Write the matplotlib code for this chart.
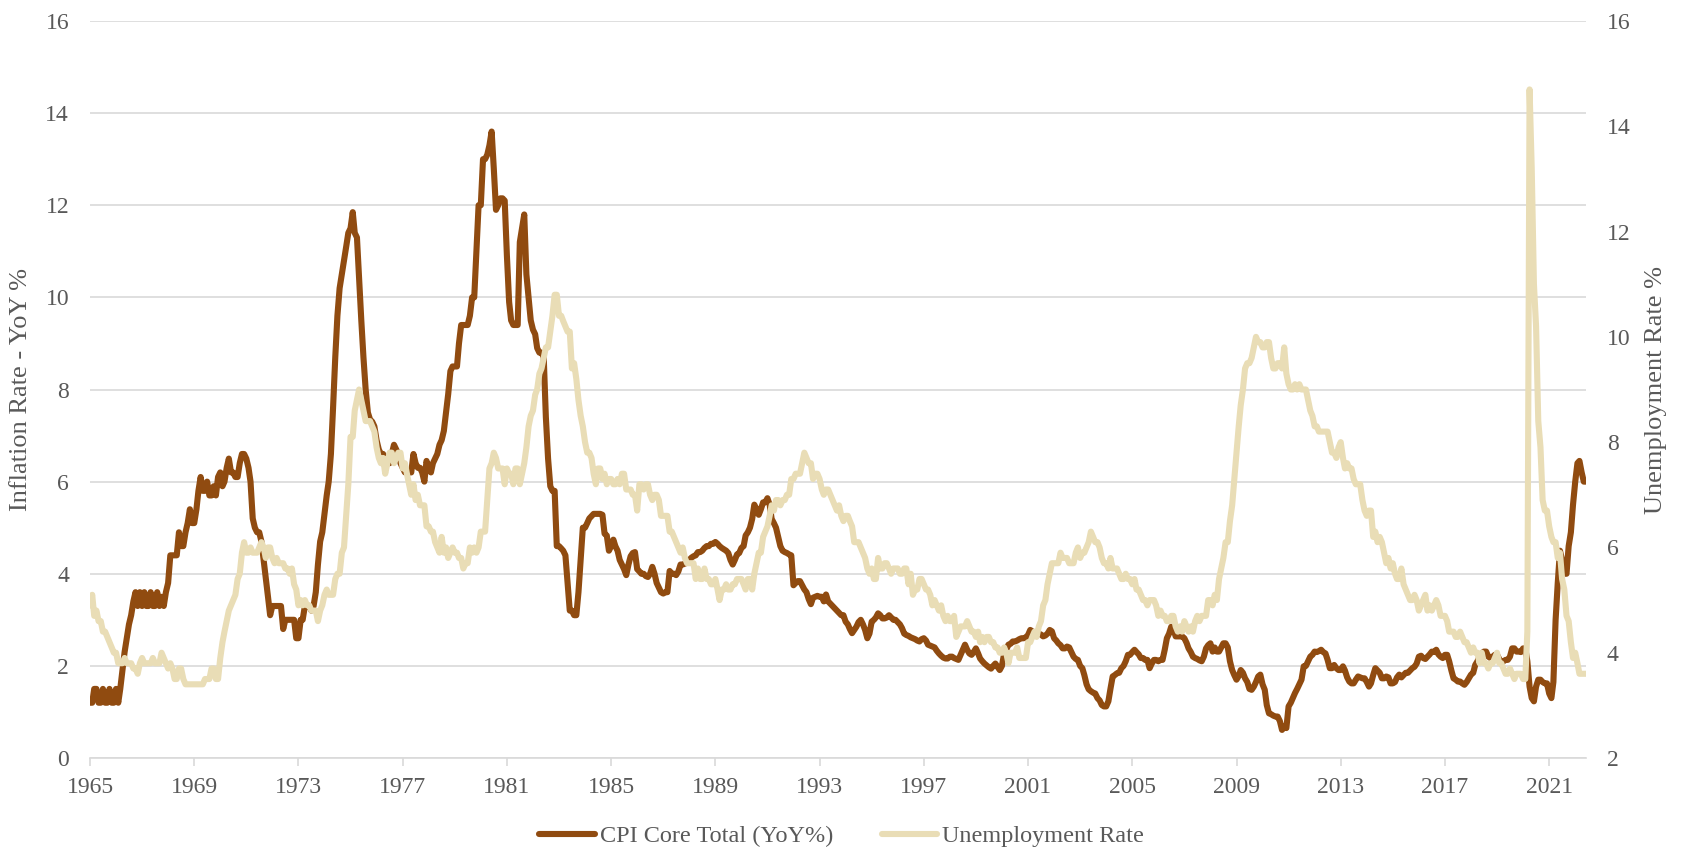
import pandas as pd
import matplotlib
matplotlib.use("Agg")
import matplotlib.pyplot as plt

# monthly values, Jan 1965 .. Jun 2022 (one row per year)
cpi_core = [
    1.2, 1.2, 1.5, 1.5, 1.2, 1.2, 1.5, 1.2, 1.2, 1.5, 1.2, 1.2,
    1.5, 1.2, 1.5, 1.9, 2.3, 2.6, 2.9, 3.1, 3.4, 3.6, 3.3, 3.6,
    3.3, 3.6, 3.3, 3.3, 3.6, 3.3, 3.3, 3.6, 3.3, 3.5, 3.3, 3.6,
    3.8, 4.4, 4.4, 4.4, 4.4, 4.9, 4.6, 4.6, 4.9, 5.1, 5.4, 5.1,
    5.1, 5.4, 5.8, 6.1, 5.8, 5.8, 6.0, 5.7, 5.7, 5.9, 5.7, 6.1,
    6.2, 5.9, 6.0, 6.3, 6.5, 6.2, 6.2, 6.1, 6.1, 6.4, 6.6, 6.6,
    6.5, 6.3, 6.0, 5.2, 5.0, 4.9, 4.9, 4.7, 4.3, 3.9, 3.5, 3.1,
    3.3, 3.3, 3.3, 3.3, 3.3, 2.8, 3.0, 3.0, 3.0, 3.0, 3.0, 2.6,
    2.6, 3.0, 3.0, 3.3, 3.3, 3.3, 3.2, 3.3, 3.6, 4.2, 4.7, 4.9,
    5.3, 5.7, 6.0, 6.6, 7.6, 8.7, 9.6, 10.2, 10.5, 10.8, 11.1, 11.4,
    11.5, 11.85, 11.4, 11.3, 10.4, 9.5, 8.7, 8.0, 7.5, 7.35, 7.3, 7.2,
    6.9, 6.7, 6.6, 6.6, 6.5, 6.4, 6.4, 6.6, 6.8, 6.7, 6.6, 6.4,
    6.3, 6.2, 6.2, 6.2, 6.2, 6.6, 6.4, 6.3, 6.3, 6.2, 6.0, 6.45,
    6.3, 6.2, 6.4, 6.5, 6.6, 6.8, 6.9, 7.1, 7.5, 7.9, 8.4, 8.5,
    8.5, 8.5, 9.0, 9.4, 9.4, 9.4, 9.4, 9.6, 10.0, 10.0, 11.0, 12.0,
    12.0, 13.0, 13.0, 13.1, 13.3, 13.6, 12.8, 11.9, 12.0, 12.15, 12.15, 12.1,
    10.9, 9.9, 9.5, 9.4, 9.4, 9.4, 11.2, 11.5, 11.8, 10.5, 10.0, 9.5,
    9.3, 9.2, 8.9, 8.8, 8.8, 8.7, 7.4, 6.5, 5.9, 5.8, 5.8, 4.6,
    4.6, 4.55, 4.5, 4.4, 3.8, 3.2, 3.2, 3.1, 3.1, 3.6, 4.3, 5.0,
    5.0, 5.1, 5.2, 5.25, 5.3, 5.3, 5.3, 5.3, 5.28, 4.87, 4.83, 4.5,
    4.6, 4.74, 4.6, 4.5, 4.3, 4.2, 4.1, 3.97, 4.2, 4.38, 4.45, 4.47,
    4.1, 4.05, 4.0, 4.0, 3.95, 3.93, 4.0, 4.15, 4.0, 3.8, 3.7, 3.6,
    3.57, 3.6, 3.6, 4.06, 4.0, 4.0, 3.97, 4.05, 4.2, 4.2, 4.22, 4.24,
    4.3, 4.35, 4.38, 4.4, 4.47, 4.47, 4.5, 4.56, 4.6, 4.6, 4.65, 4.65,
    4.69, 4.65, 4.6, 4.56, 4.53, 4.5, 4.45, 4.3, 4.2, 4.3, 4.42, 4.45,
    4.56, 4.6, 4.83, 4.9, 5.0, 5.19, 5.5, 5.4, 5.28, 5.4, 5.55, 5.55,
    5.64, 5.5, 5.19, 5.1, 5.0, 4.8, 4.6, 4.5, 4.47, 4.45, 4.42, 4.4,
    3.75, 3.8, 3.84, 3.84, 3.75, 3.66, 3.6, 3.45, 3.34, 3.48, 3.5, 3.52,
    3.5, 3.5, 3.4, 3.55, 3.4, 3.35, 3.3, 3.25, 3.2, 3.15, 3.1, 3.1,
    2.96, 2.9, 2.8, 2.71, 2.78, 2.85, 2.95, 3.0, 2.9, 2.78, 2.6, 2.7,
    2.96, 3.0, 3.05, 3.14, 3.1, 3.03, 3.03, 3.05, 3.1, 3.05, 3.0, 3.0,
    2.95, 2.9, 2.82, 2.7, 2.67, 2.65, 2.62, 2.6, 2.58, 2.55, 2.53, 2.58,
    2.6, 2.55, 2.46, 2.44, 2.42, 2.4, 2.33, 2.27, 2.22, 2.18, 2.16, 2.16,
    2.2, 2.2, 2.17, 2.15, 2.13, 2.24, 2.35, 2.46, 2.35, 2.27, 2.24, 2.3,
    2.38, 2.27, 2.16, 2.1, 2.05, 2.01, 1.97, 1.94, 2.0, 2.05, 1.98, 1.91,
    2.0, 2.27, 2.35, 2.46, 2.48, 2.53, 2.53, 2.55, 2.58, 2.6, 2.6, 2.62,
    2.67, 2.78, 2.75, 2.71, 2.71, 2.7, 2.68, 2.64, 2.66, 2.7, 2.78, 2.75,
    2.6, 2.55, 2.49, 2.45, 2.38, 2.38, 2.42, 2.4, 2.3, 2.2, 2.15, 2.13,
    2.0, 1.95, 1.8, 1.6, 1.49, 1.45, 1.42, 1.4, 1.3, 1.25, 1.15, 1.12,
    1.12, 1.23, 1.5, 1.77, 1.8, 1.84, 1.85, 1.95, 2.0, 2.1, 2.24, 2.24,
    2.3, 2.35, 2.3, 2.25, 2.17, 2.17, 2.13, 2.13, 1.95, 2.05, 2.13, 2.13,
    2.1, 2.13, 2.13, 2.35, 2.6, 2.7, 2.85, 2.8, 2.64, 2.64, 2.64, 2.64,
    2.6, 2.5, 2.38, 2.3, 2.2, 2.17, 2.15, 2.12, 2.1, 2.2, 2.38, 2.45,
    2.49, 2.31, 2.4, 2.31, 2.31, 2.4, 2.49, 2.49, 2.4, 2.1, 1.91, 1.8,
    1.7, 1.78, 1.91, 1.85, 1.73, 1.65, 1.5, 1.48, 1.55, 1.65, 1.77, 1.81,
    1.6, 1.48, 1.15, 0.97, 0.95, 0.92, 0.9, 0.9, 0.8, 0.61, 0.68, 0.65,
    1.12, 1.2, 1.3, 1.41, 1.5, 1.6, 1.7, 1.99, 2.0, 2.1, 2.2, 2.24,
    2.31, 2.3, 2.32, 2.35, 2.3, 2.27, 2.13, 1.95, 1.95, 2.02, 1.95, 1.91,
    1.91, 1.99, 1.9, 1.75, 1.66, 1.62, 1.62, 1.7, 1.77, 1.75, 1.73, 1.73,
    1.65, 1.55, 1.62, 1.8, 1.95, 1.9, 1.85, 1.73, 1.73, 1.77, 1.75, 1.62,
    1.62, 1.65, 1.75, 1.81, 1.75, 1.8, 1.85, 1.85, 1.9, 1.95, 1.98, 2.05,
    2.2, 2.22, 2.17, 2.15, 2.2, 2.25, 2.31, 2.3, 2.35, 2.25, 2.2, 2.17,
    2.24, 2.24, 2.1, 1.9, 1.73, 1.7, 1.66, 1.66, 1.62, 1.59, 1.65, 1.73,
    1.81, 1.85, 2.02, 2.1, 2.2, 2.27, 2.31, 2.31, 2.2, 2.17, 2.2, 2.24,
    2.24, 2.15, 2.06, 2.1, 2.13, 2.13, 2.2, 2.38, 2.38, 2.31, 2.31, 2.3,
    2.38, 2.38, 2.1, 1.55, 1.3, 1.23, 1.55, 1.7, 1.7, 1.65, 1.62, 1.62,
    1.4, 1.3, 1.65, 3.0, 3.8, 4.5, 4.3, 4.0, 4.0, 4.6, 4.9, 5.5,
    6.0, 6.4, 6.45, 6.2, 6.0, 6.0,
]

unemployment = [
    4.9, 5.1, 4.7, 4.8, 4.6, 4.6, 4.4, 4.4, 4.3, 4.2, 4.1, 4.0,
    4.0, 3.8, 3.8, 3.8, 3.9, 3.8, 3.8, 3.8, 3.7, 3.7, 3.6, 3.8,
    3.9, 3.8, 3.8, 3.8, 3.8, 3.9, 3.8, 3.8, 3.8, 4.0, 3.9, 3.8,
    3.7, 3.8, 3.7, 3.5, 3.5, 3.7, 3.7, 3.5, 3.4, 3.4, 3.4, 3.4,
    3.4, 3.4, 3.4, 3.4, 3.4, 3.5, 3.5, 3.5, 3.7, 3.7, 3.5, 3.5,
    3.9, 4.2, 4.4, 4.6, 4.8, 4.9, 5.0, 5.1, 5.4, 5.5, 5.9, 6.1,
    5.9, 5.9, 6.0, 5.9, 5.9, 5.9, 6.0, 6.1, 6.0, 5.8, 6.0, 6.0,
    5.8, 5.7, 5.8, 5.7, 5.7, 5.7, 5.6, 5.6, 5.5, 5.6, 5.3, 5.2,
    4.9, 5.0, 4.9, 5.0, 4.9, 4.9, 4.8, 4.8, 4.8, 4.6, 4.8, 4.9,
    5.1, 5.2, 5.1, 5.1, 5.1, 5.4, 5.5, 5.5, 5.9, 6.0, 6.6, 7.2,
    8.1, 8.1, 8.6, 8.8, 9.0, 8.8, 8.6, 8.4, 8.4, 8.4, 8.3, 8.2,
    7.9, 7.7, 7.6, 7.7, 7.4, 7.6, 7.8, 7.8, 7.6, 7.7, 7.8, 7.8,
    7.5, 7.6, 7.4, 7.2, 7.0, 7.2, 6.9, 7.0, 6.8, 6.8, 6.8, 6.4,
    6.4, 6.3, 6.3, 6.1, 6.0, 5.9, 6.2, 5.9, 6.0, 5.8, 5.9, 6.0,
    5.9, 5.9, 5.8, 5.8, 5.6, 5.7, 5.7, 6.0, 5.9, 6.0, 5.9, 6.0,
    6.3, 6.3, 6.3, 6.9, 7.5, 7.6, 7.8, 7.7, 7.5, 7.5, 7.5, 7.2,
    7.5, 7.4, 7.4, 7.2, 7.5, 7.5, 7.2, 7.4, 7.6, 7.9, 8.3, 8.5,
    8.6, 8.9, 9.0, 9.3, 9.4, 9.6, 9.8, 9.8, 10.1, 10.4, 10.8, 10.8,
    10.4, 10.4, 10.3, 10.2, 10.1, 10.1, 9.4, 9.5, 9.2, 8.8, 8.5, 8.3,
    8.0, 7.8, 7.8, 7.7, 7.4, 7.2, 7.5, 7.5, 7.3, 7.4, 7.2, 7.3,
    7.3, 7.2, 7.2, 7.3, 7.2, 7.4, 7.4, 7.1, 7.1, 7.1, 7.0, 7.0,
    6.7, 7.2, 7.2, 7.1, 7.2, 7.2, 7.0, 6.9, 7.0, 7.0, 6.9, 6.6,
    6.6, 6.6, 6.6, 6.3, 6.3, 6.2, 6.1, 6.0, 5.9, 6.0, 5.8, 5.7,
    5.7, 5.7, 5.7, 5.4, 5.6, 5.4, 5.4, 5.6, 5.4, 5.4, 5.3, 5.3,
    5.4, 5.2, 5.0, 5.2, 5.2, 5.3, 5.2, 5.2, 5.3, 5.3, 5.4, 5.4,
    5.4, 5.3, 5.2, 5.4, 5.4, 5.2, 5.5, 5.7, 5.9, 5.9, 6.2, 6.3,
    6.4, 6.6, 6.8, 6.7, 6.9, 6.9, 6.8, 6.9, 6.9, 7.0, 7.0, 7.3,
    7.3, 7.4, 7.4, 7.4, 7.6, 7.8, 7.7, 7.6, 7.6, 7.3, 7.4, 7.4,
    7.3, 7.1, 7.0, 7.1, 7.1, 7.0, 6.9, 6.8, 6.7, 6.8, 6.6, 6.5,
    6.6, 6.6, 6.5, 6.4, 6.1, 6.1, 6.1, 6.0, 5.9, 5.8, 5.6, 5.5,
    5.6, 5.4, 5.4, 5.8, 5.6, 5.6, 5.7, 5.7, 5.6, 5.5, 5.6, 5.6,
    5.6, 5.5, 5.5, 5.6, 5.6, 5.3, 5.5, 5.1, 5.2, 5.2, 5.4, 5.4,
    5.3, 5.2, 5.2, 5.1, 4.9, 5.0, 4.9, 4.8, 4.9, 4.7, 4.6, 4.7,
    4.6, 4.6, 4.7, 4.3, 4.4, 4.5, 4.5, 4.5, 4.6, 4.5, 4.4, 4.4,
    4.3, 4.4, 4.2, 4.3, 4.2, 4.3, 4.3, 4.2, 4.2, 4.1, 4.1, 4.0,
    4.0, 4.1, 4.0, 3.8, 4.0, 4.0, 4.0, 4.1, 3.9, 3.9, 3.9, 3.9,
    4.2, 4.2, 4.3, 4.4, 4.3, 4.5, 4.6, 4.9, 5.0, 5.3, 5.5, 5.7,
    5.7, 5.7, 5.7, 5.9, 5.8, 5.8, 5.8, 5.7, 5.7, 5.7, 5.9, 6.0,
    5.8, 5.9, 5.9, 6.0, 6.1, 6.3, 6.2, 6.1, 6.1, 6.0, 5.8, 5.7,
    5.7, 5.6, 5.8, 5.6, 5.6, 5.6, 5.5, 5.4, 5.4, 5.5, 5.4, 5.4,
    5.3, 5.4, 5.2, 5.2, 5.1, 5.0, 5.0, 4.9, 5.0, 5.0, 5.0, 4.9,
    4.7, 4.8, 4.7, 4.7, 4.6, 4.6, 4.7, 4.7, 4.5, 4.4, 4.5, 4.4,
    4.6, 4.5, 4.4, 4.5, 4.4, 4.6, 4.7, 4.6, 4.7, 4.7, 4.7, 5.0,
    5.0, 4.9, 5.1, 5.0, 5.4, 5.6, 5.8, 6.1, 6.1, 6.5, 6.8, 7.3,
    7.8, 8.3, 8.7, 9.0, 9.4, 9.5, 9.5, 9.6, 9.8, 10.0, 9.9, 9.9,
    9.8, 9.8, 9.9, 9.9, 9.6, 9.4, 9.4, 9.5, 9.5, 9.4, 9.8, 9.3,
    9.1, 9.0, 9.0, 9.1, 9.0, 9.1, 9.0, 9.0, 9.0, 8.8, 8.6, 8.5,
    8.3, 8.3, 8.2, 8.2, 8.2, 8.2, 8.2, 8.0, 7.8, 7.8, 7.7, 7.9,
    8.0, 7.7, 7.5, 7.6, 7.5, 7.5, 7.3, 7.2, 7.2, 7.2, 6.9, 6.7,
    6.6, 6.7, 6.7, 6.2, 6.3, 6.1, 6.2, 6.1, 5.9, 5.7, 5.8, 5.6,
    5.7, 5.5, 5.4, 5.4, 5.6, 5.3, 5.2, 5.1, 5.0, 5.0, 5.1, 5.0,
    4.8, 4.9, 5.0, 5.1, 4.8, 4.9, 4.8, 4.9, 5.0, 4.9, 4.7, 4.7,
    4.7, 4.6, 4.4, 4.4, 4.4, 4.3, 4.3, 4.4, 4.3, 4.2, 4.2, 4.1,
    4.0, 4.1, 4.0, 4.0, 3.8, 4.0, 3.8, 3.8, 3.7, 3.8, 3.8, 3.9,
    4.0, 3.8, 3.8, 3.7, 3.6, 3.6, 3.7, 3.6, 3.5, 3.6, 3.6, 3.6,
    3.5, 3.5, 4.4, 14.7, 13.2, 11.0, 10.2, 8.4, 7.9, 6.9, 6.7, 6.7,
    6.4, 6.2, 6.1, 6.1, 5.8, 5.9, 5.4, 5.2, 4.7, 4.6, 4.2, 3.9,
    4.0, 3.8, 3.6, 3.6, 3.6, 3.6,
]

tick_years = list(range(1965, 2022, 4))

brown = "#904B10"
beige = "#E9DDB6"
grey_text = "#595959"
grid_grey = "#D9D9D9"

plt.rcParams["font.family"] = ["Liberation Serif", "DejaVu Serif"]

months = pd.date_range("1965-01-01", periods=len(cpi_core), freq="MS")

fig = plt.figure(figsize=(16.83, 8.51), dpi=100)
ax = fig.add_axes([90 / 1683, 1 - 758 / 851, 1496 / 1683, 737 / 851])
ax2 = ax.twinx()

ax.plot(months, cpi_core, color=brown, lw=4.4, solid_joinstyle="round",
        solid_capstyle="round", label="CPI Core Total (YoY%)")
ax2.plot(months, unemployment, color=beige, lw=4.4, solid_joinstyle="round",
         solid_capstyle="round", label="Unemployment Rate")

ax.set_xlim(months[0], months[-1])
ax.set_ylim(0, 16)
ax.set_yticks(range(0, 17, 2))
ax2.set_ylim(2, 16)
ax2.set_yticks(range(2, 17, 2))

ax.set_xticks(pd.to_datetime([f"{y}-01-01" for y in tick_years]))
ax.set_xticklabels([str(y) for y in tick_years])

ax.grid(axis="y", color=grid_grey, lw=1.2)
ax.set_axisbelow(True)
for s in ["top", "left", "right"]:
    ax.spines[s].set_visible(False)
    ax2.spines[s].set_visible(False)
ax2.spines["bottom"].set_visible(False)
ax.spines["bottom"].set_color(grid_grey)
ax.spines["bottom"].set_linewidth(1.2)

ax.tick_params(axis="x", length=6, width=1.2, color=grid_grey, labelsize=17,
               labelcolor=grey_text, pad=8)
ax.tick_params(axis="y", length=0, labelsize=17, labelcolor=grey_text, pad=15)
ax2.tick_params(axis="y", length=0, labelsize=17, labelcolor=grey_text, pad=15)

fig.text(21.5 / 1683, 1 - 389.5 / 851, "Inflation Rate - YoY %", rotation=90,
         ha="center", va="center", fontsize=19, color=grey_text)
fig.text(1656 / 1683, 1 - 389.5 / 851, "Unemployment Rate %", rotation=90,
         ha="center", va="center", fontsize=19, color=grey_text)

h1, l1 = ax.get_legend_handles_labels()
h2, l2 = ax2.get_legend_handles_labels()
leg = fig.legend(h1 + h2, l1 + l2, loc="center", bbox_to_anchor=(0.5, 1 - 836 / 851),
                 ncol=2, frameon=False, fontsize=17.5, handlelength=2.3,
                 handletextpad=0.2, columnspacing=2.0)
for t in leg.get_texts():
    t.set_color(grey_text)

fig.savefig("out.png", dpi=100)
